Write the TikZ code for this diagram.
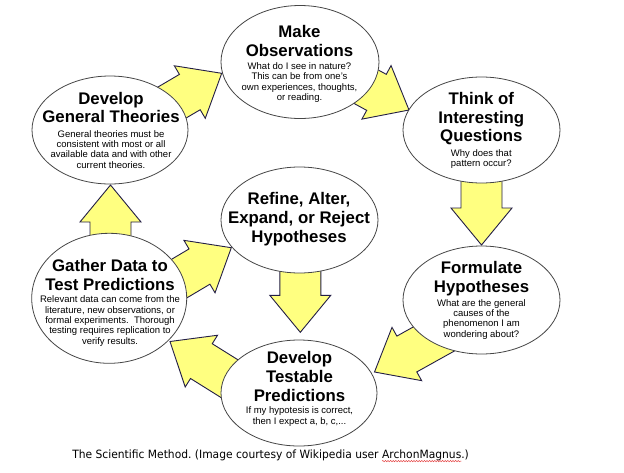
\documentclass[tikz,border=0pt]{standalone}
\usepackage{fontspec}
\setmainfont{Liberation Sans}
\newfontfamily\capfont[FakeStretch=0.94]{DejaVu Sans}
\usetikzlibrary{calc,shapes.geometric,decorations.pathmorphing}
\definecolor{arrowfill}{RGB}{255,255,128}
\definecolor{arrowline}{RGB}{35,30,70}
\definecolor{ellline}{RGB}{70,70,70}
\definecolor{squig}{RGB}{230,70,70}
\frenchspacing
% #1 tail coordinate, #2 tip coordinate, #3 name of the head-base coordinate
\newcommand\blockarrow[3]{%
  \coordinate (#3) at ($(#2)!37pt!(#1)$);
  \draw[blockarr]
    ($(#1)!20.5pt!90:(#2)$) -- ($(#3)!20.5pt!90:(#2)$) --
    ($(#3)!30.5pt!90:(#2)$) -- (#2) --
    ($(#3)!30.5pt!-90:(#2)$) -- ($(#3)!20.5pt!-90:(#2)$) --
    ($(#1)!20.5pt!-90:(#2)$) -- cycle;
}
\begin{document}
\begin{tikzpicture}[x=1pt,y=-1pt,
  blockarr/.style={fill=arrowfill,draw=arrowline,line width=0.9pt,line join=miter},
  bubble/.style={ellipse,draw=ellline,fill=white,line width=0.8pt,inner sep=0pt},
  titletext/.style={font=\fontsize{16.8}{18.7}\selectfont\bfseries,align=center,anchor=base,inner sep=0pt},
  bodytext/.style={font=\fontsize{9.5}{10.4}\selectfont,align=center,anchor=base,inner sep=0pt},
  captext/.style={font=\capfont\fontsize{11.4}{13}\selectfont\frenchspacing,anchor=base west,inner sep=0pt,outer sep=0pt}]
\fill[white] (0,0) rectangle (624,472);
\useasboundingbox (0,0) rectangle (624,472);

% arrow end points
\coordinate (a1s) at (127,129);   \coordinate (a1t) at (221.7,73.3);
\coordinate (a2s) at (312.4,57.5); \coordinate (a2t) at (409,110);
\coordinate (a3s) at (481.5,140); \coordinate (a3t) at (481.5,245);
\coordinate (a4s) at (470.6,318.5); \coordinate (a4t) at (374.5,372);
\coordinate (a5s) at (263.3,399.8); \coordinate (a5t) at (170,341.5);
\coordinate (a6s) at (136.7,303.8); \coordinate (a6t) at (231.3,247.7);
\coordinate (a7s) at (300.3,230); \coordinate (a7t) at (300.3,332.3);
\coordinate (a8s) at (110.5,290); \coordinate (a8t) at (110.5,185);

\blockarrow{a1s}{a1t}{a1b}
\blockarrow{a2s}{a2t}{a2b}
\blockarrow{a3s}{a3t}{a3b}
\blockarrow{a4s}{a4t}{a4b}
\blockarrow{a5s}{a5t}{a5b}
\blockarrow{a6s}{a6t}{a6b}
\blockarrow{a7s}{a7t}{a7b}
\blockarrow{a8s}{a8t}{a8b}

% ellipses
\node[bubble,minimum width=158pt,minimum height=113pt] (obs) at (300,62) {};
\node[bubble,minimum width=157pt,minimum height=106pt] (que) at (481.5,130) {};
\node[bubble,minimum width=156pt,minimum height=108pt] (theo) at (110,130) {};
\node[bubble,minimum width=157pt,minimum height=106pt] (ref) at (299.5,220) {};
\node[bubble,minimum width=157pt,minimum height=108pt] (hyp) at (481.5,300) {};
\node[bubble,minimum width=155pt,minimum height=130pt] (gat) at (109.2,298.3) {};
\node[bubble,minimum width=156pt,minimum height=106pt] (pre) at (299,393) {};

% texts (anchored at the baseline of their last line)
\node[titletext] (obs-t) at (299.5,56) {Make\\Observations};
\node[bodytext] (obs-b) at (299.5,100.7) {What do I see in nature?\\This can be from one's\\own experiences, thoughts,\\or reading.};
\node[titletext] (que-t) at (481.3,141.7) {Think of\\Interesting\\Questions};
\node[bodytext] (que-b) at (481.3,166.7) {Why does that\\pattern occur?};
\node[titletext] (theo-t) at (111,122.7) {Develop\\General Theories};
\node[bodytext] (theo-b) at (111,168.3) {General theories must be\\consistent with most or all\\available data and with other\\current theories.};
\node[titletext] (ref-t) at (299,242.3) {Refine, Alter,\\Expand, or Reject\\Hypotheses};
\node[titletext] (hyp-t) at (481.5,292) {Formulate\\Hypotheses};
\node[bodytext] (hyp-b) at (481.5,337.3) {What are the general\\causes of the\\phenomenon I am\\wondering about?};
\node[titletext] (gat-t) at (110,290) {Gather Data to\\Test Predictions};
\node[bodytext] (gat-b) at (110,344.3) {Relevant data can come from the\\literature, new observations, or\\formal experiments.~ Thorough\\testing requires replication to\\verify results.};
\node[titletext] (pre-t) at (299.5,401) {Develop\\Testable\\Predictions};
\node[bodytext] (pre-b) at (299.5,424) {If my hypotesis is correct,\\then I expect a, b, c,...};

% caption
\node[captext] (cap1) at (72.3,458.3) {The Scientific Method. (Image courtesy of Wikipedia user};
\node[captext] (cap2) at ($(cap1.base east)+(3.4,0)$) {ArchonMagnus};
\node[captext] (cap3) at (cap2.base east) {.)};
\draw[squig,line width=0.5pt,decorate,decoration={snake,amplitude=0.7pt,segment length=2.6pt}]
  ($(cap2.base west)+(0,2.8)$) -- ($(cap2.base east)+(0,2.8)$);
\end{tikzpicture}
\end{document}
